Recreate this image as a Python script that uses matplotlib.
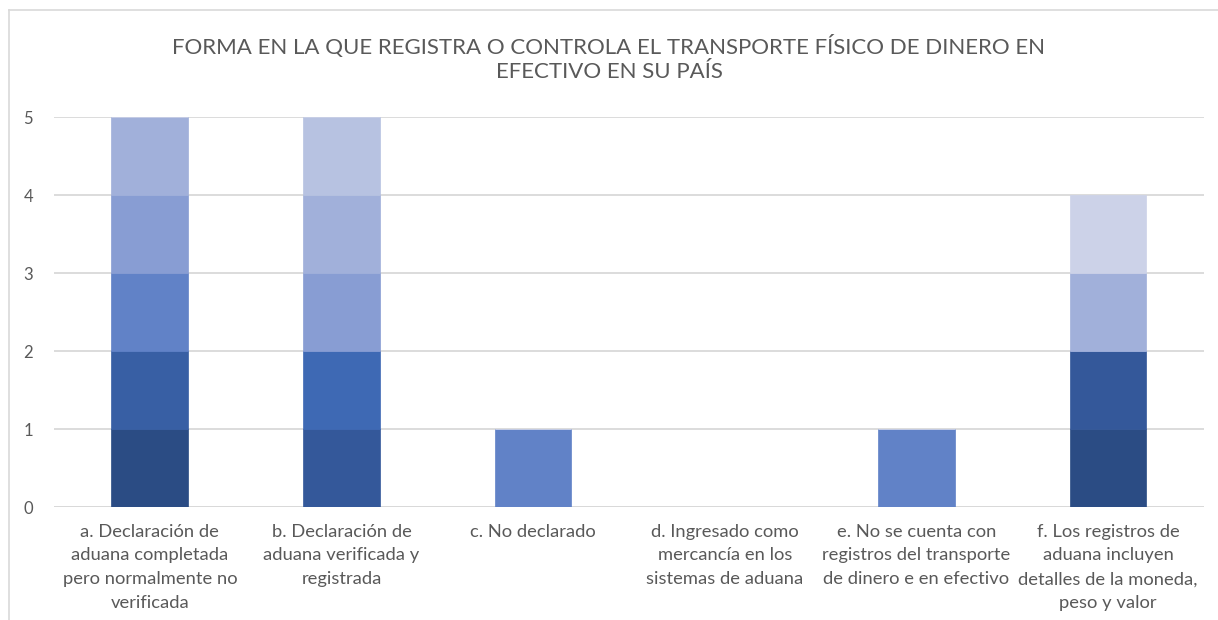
import matplotlib
matplotlib.use("Agg")
import matplotlib.pyplot as plt
from matplotlib.lines import Line2D
import numpy as np

plt.rcParams['font.family'] = ['Lato', 'DejaVu Sans']

title = "FORMA EN LA QUE REGISTRA O CONTROLA EL TRANSPORTE FÍSICO DE DINERO EN\nEFECTIVO EN SU PAÍS"

categories = [
    "a. Declaración de\naduana completada\npero normalmente no\nverificada",
    "b. Declaración de\naduana verificada y\nregistrada",
    "c. No declarado",
    "d. Ingresado como\nmercancía en los\nsistemas de aduana",
    "e. No se cuenta con\nregistros del transporte\nde dinero e en efectivo",
    "f. Los registros de\naduana incluyen\ndetalles de la moneda,\npeso y valor",
]

# stacked series (bottom to top), values per category
s1 = [1, 0, 0, 0, 0, 1]
s2 = [0, 1, 0, 0, 0, 1]
s3 = [1, 0, 0, 0, 0, 0]
s4 = [0, 1, 0, 0, 0, 0]
s5 = [1, 0, 1, 0, 1, 0]
s6 = [1, 1, 0, 0, 0, 0]
s7 = [1, 1, 0, 0, 0, 1]
s8 = [0, 1, 0, 0, 0, 0]
s9 = [0, 0, 0, 0, 0, 1]
series = [s1, s2, s3, s4, s5, s6, s7, s8, s9]
colors = ["#2B4C84", "#34589A", "#385FA4", "#3E69B4", "#6182C7",
          "#889DD3", "#A1B0DA", "#B7C2E1", "#CCD2E8"]

yticks = [0, 1, 2, 3, 4, 5]

fig = plt.figure(figsize=(12.18, 6.2), dpi=100)
ax = fig.add_axes([54/1218, 1 - 507/620, (1204-54)/1218, (507-117)/620])

x = np.arange(len(categories))
bottom = np.zeros(len(categories))
for vals, c in zip(series, colors):
    v = np.array(vals, dtype=float)
    ax.bar(x, v, bottom=bottom, width=0.40, color=c, edgecolor=c, linewidth=0.5, zorder=3)
    bottom += v

ax.set_xlim(-0.5, len(categories) - 0.5)
ax.set_ylim(0, 5)
ax.set_yticks(yticks)
ax.set_yticklabels([str(t) for t in yticks])
ax.set_xticks(x)
ax.set_xticklabels(categories, linespacing=1.6)
ax.tick_params(axis='y', length=0, colors='#595959', labelsize=12, pad=15)
ax.tick_params(axis='x', length=0, colors='#595959', labelsize=13.2, pad=12)
ax.grid(axis='y', color='#D9D9D9', linewidth=1.3, zorder=0)
for sp in ax.spines.values():
    sp.set_visible(False)
ax.axhline(0, color='#D9D9D9', linewidth=1.3, zorder=1)

fig.text(0.5, 1 - 58.5/620, title, ha='center', va='center', fontsize=16,
         color='#595959', linespacing=1.2)

# chart border (left and top visible)
fig.add_artist(Line2D([9/1218, 9/1218], [0, 1 - 10/620], transform=fig.transFigure,
                      color='#D9D9D9', linewidth=1.2))
fig.add_artist(Line2D([9/1218, 1], [1 - 10/620, 1 - 10/620], transform=fig.transFigure,
                      color='#D9D9D9', linewidth=1.2))

fig.savefig("out.png", dpi=100, facecolor='white')
